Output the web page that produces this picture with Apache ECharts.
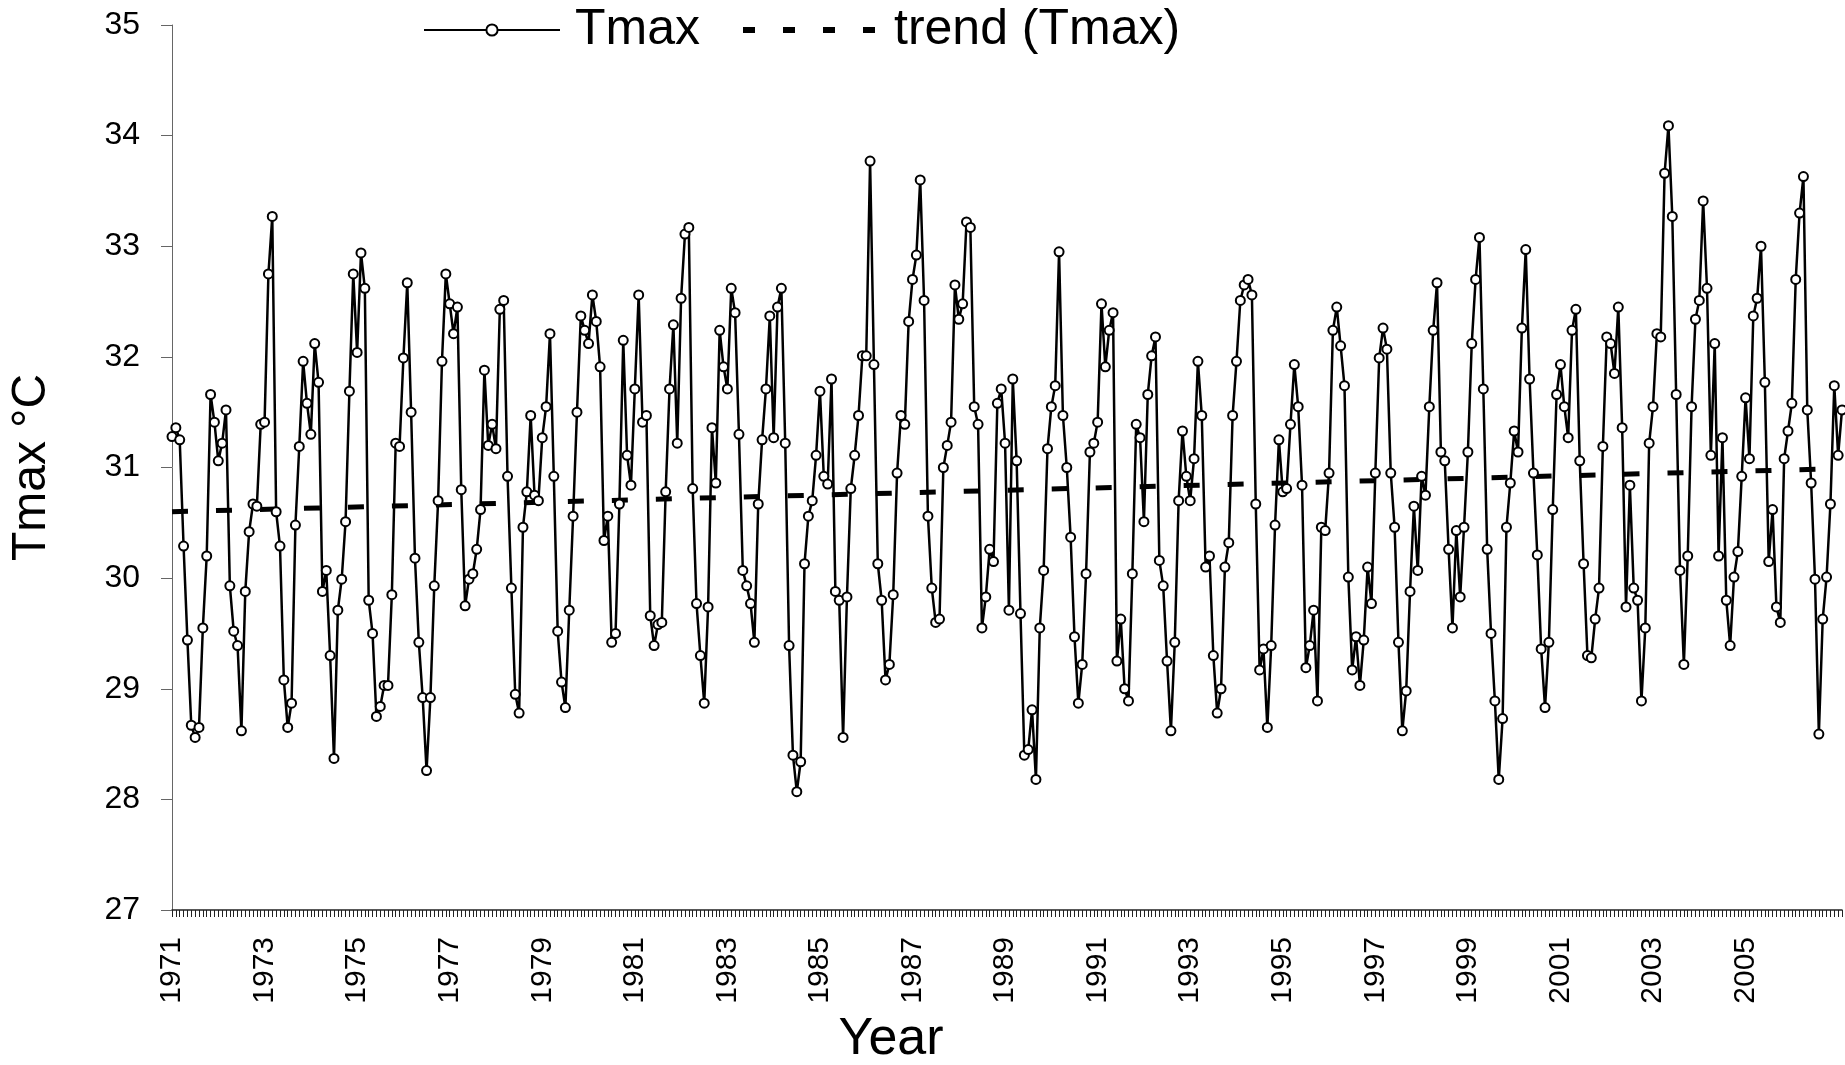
<!DOCTYPE html>
<html>
<head>
<meta charset="utf-8">
<title>Tmax</title>
<script src="https://cdn.jsdelivr.net/npm/echarts@6.0.0/dist/echarts.min.js"></script>
<style>
  html, body { margin: 0; padding: 0; background: #fff; }
  #main { width: 1845px; height: 1065px; }
</style>
</head>
<body>
<div id="main"></div>
<script>
// monthly Tmax (°C), Jan 1971 onward
const tmax = [
  31.28, 31.36, 31.25, 30.29, 29.44, 28.67, 28.56, 28.65, 29.55, 30.2,
  31.66, 31.41, 31.06, 31.22, 31.52, 29.93, 29.52, 29.39, 28.62, 29.88,
  30.42, 30.67, 30.65, 31.39, 31.41, 32.75, 33.27, 30.6, 30.29, 29.08,
  28.65, 28.87, 30.48, 31.19, 31.96, 31.58, 31.3, 32.12, 31.77, 29.88,
  30.07, 29.3, 28.37, 29.71, 29.99, 30.51, 31.69, 32.75, 32.04, 32.94,
  32.62, 29.8, 29.5, 28.75, 28.84, 29.03, 29.03, 29.85, 31.22, 31.19,
  31.99,
  32.67, 31.5, 30.18, 29.42, 28.92, 28.26, 28.92, 29.93, 30.7, 31.96,
  32.75, 32.48, 32.21, 32.45, 30.8, 29.75, 29.99, 30.04, 30.26, 30.62,
  31.88, 31.2, 31.39, 31.17, 32.43, 32.51, 30.92, 29.91, 28.95, 28.78,
  30.46, 30.78, 31.47, 30.75, 30.7, 31.27, 31.55, 32.21, 30.92, 29.52,
  29.06, 28.83, 29.71, 30.56, 31.5, 32.37, 32.24, 32.12, 32.56, 32.32,
  31.91, 30.34, 30.56, 29.42, 29.5, 30.67, 32.15, 31.11, 30.84, 31.71,
  32.56, 31.41, 31.47, 29.66, 29.39, 29.58, 29.6, 30.78, 31.71, 32.29,
  31.22, 32.53, 33.11, 33.17, 30.81, 29.77, 29.3, 28.87, 29.74, 31.36,
  30.86, 32.24, 31.91, 31.71, 32.62, 32.4, 31.3, 30.07, 29.93, 29.77,
  29.42, 30.67, 31.25, 31.71, 32.37, 31.27, 32.45, 32.62, 31.22, 29.39,
  28.4, 28.07, 28.34, 30.13, 30.56, 30.7, 31.11, 31.69, 30.92, 30.85,
  31.8, 29.88, 29.8, 28.56, 29.83, 30.81, 31.11, 31.47, 32.01,
  32.01, 33.77, 31.93, 30.13, 29.8, 29.08, 29.22, 29.85, 30.95, 31.47,
  31.39, 32.32, 32.7, 32.92, 33.6, 32.51, 30.56, 29.91, 29.6, 29.63,
  31.0, 31.2, 31.41, 32.65, 32.34, 32.48, 33.22, 33.17, 31.55, 31.39,
  29.55, 29.83, 30.26, 30.15, 31.58, 31.71, 31.22, 29.71, 31.8, 31.06,
  29.68, 28.4, 28.45, 28.81, 28.18, 29.55, 30.07, 31.17, 31.55, 31.74,
  32.95, 31.47, 31.0, 30.37, 29.47, 28.87, 29.22, 30.04, 31.14, 31.22,
  31.41, 32.48, 31.91, 32.24, 32.4, 29.25, 29.63, 29.0, 28.89, 30.04,
  31.39, 31.27, 30.51, 31.66, 32.01, 32.18, 30.16, 29.93, 29.25, 28.62,
  29.42, 30.7, 31.33, 30.92, 30.7, 31.08, 31.96, 31.47, 30.1, 30.2,
  29.3, 28.78, 29.0, 30.1, 30.32, 31.47, 31.96, 32.51, 32.65, 32.7,
  32.56, 30.67, 29.17, 29.36, 28.65, 29.39, 30.48, 31.25, 30.78, 30.81,
  31.39, 31.93, 31.55, 30.84, 29.19, 29.39, 29.71, 28.89, 30.46, 30.43,
  30.95, 32.24, 32.45, 32.1, 31.74, 30.01, 29.17, 29.47, 29.03, 29.44,
  30.1, 29.77, 30.95, 31.99, 32.26, 32.07, 30.95, 30.46, 29.42, 28.62,
  28.98, 29.88, 30.65, 30.07, 30.92, 30.75, 31.55, 32.24, 32.67, 31.14,
  31.06, 30.26, 29.55, 30.43, 29.83, 30.46, 31.14, 32.12, 32.7, 33.08,
  31.71, 30.26, 29.5, 28.89, 28.18, 28.73, 30.46, 30.86, 31.33, 31.14,
  32.26, 32.97, 31.8, 30.95, 30.21, 29.36, 28.83, 29.42, 30.62, 31.66,
  31.93, 31.55, 31.27, 32.24, 32.43, 31.06, 30.13, 29.3, 29.28, 29.63,
  29.91, 31.19, 32.18, 32.12, 31.85, 32.45, 31.36, 29.74, 30.84, 29.91,
  29.8, 28.89, 29.55, 31.22, 31.55, 32.21, 32.18, 33.66, 34.09, 33.27,
  31.66, 30.07, 29.22, 30.2, 31.55, 32.34, 32.51, 33.41, 32.62, 31.11,
  32.12, 30.2, 31.27, 29.8, 29.39, 30.01, 30.24, 30.92, 31.63, 31.08,
  32.37, 32.53, 33.0, 31.77, 30.15, 30.62, 29.74, 29.6, 31.08,
  31.33, 31.58, 32.7, 33.3, 33.63, 31.52, 30.86, 29.99, 28.59, 29.63,
  30.01, 30.67, 31.74, 31.11, 31.52
];

// year labels shown under every 24th month
const yearTicks = ['1971','1973','1975','1977','1979','1981','1983','1985','1987',
  '1989','1991','1993','1995','1997','1999','2001','2003','2005'];

// linear trend line, value at first and last month
const trendEnds = [30.60, 30.99];

const cats = tmax.map((v, i) => (i % 24 === 0 && yearTicks[i / 24]) ? yearTicks[i / 24] : '');
const trend = tmax.map((v, i) => i === 0 ? trendEnds[0] : (i === tmax.length - 1 ? trendEnds[1] : null));

const font = 'Liberation Sans, Arial, sans-serif';
const chart = echarts.init(document.getElementById('main'), null, { renderer: 'canvas' });

chart.setOption({
  animation: false,
  backgroundColor: '#fff',
  grid: { left: 171, right: 3, top: 25, bottom: 155, containLabel: false },
  legend: {
    left: 418,
    top: 0,
    itemWidth: 136,
    itemHeight: 14,
    itemGap: 40,
    textStyle: { fontFamily: font, fontSize: 50, color: '#000', padding: [0, 0, 0, 10] },
    data: [
      'Tmax',
      {
        name: 'trend (Tmax)',
        itemStyle: { opacity: 0 },
        lineStyle: { color: '#000', width: 6, type: [12, 28], cap: 'butt' }
      }
    ]
  },
  xAxis: {
    type: 'category',
    boundaryGap: false,
    data: cats,
    axisLine: { lineStyle: { color: '#222', width: 1.5 } },
    axisTick: { show: true, interval: 0, length: 7, lineStyle: { color: '#222', width: 1 } },
    axisLabel: {
      interval: 0,
      rotate: 90,
      margin: 27,
      fontFamily: font,
      fontSize: 30,
      color: '#000'
    },
    splitLine: { show: false }
  },
  yAxis: {
    type: 'value',
    min: 27,
    max: 35,
    interval: 1,
    name: 'Tmax °C',
    nameLocation: 'middle',
    nameRotate: 90,
    nameGap: 116,
    nameTextStyle: { fontFamily: font, fontSize: 48, color: '#000' },
    axisLine: { show: true, lineStyle: { color: '#666', width: 1 } },
    axisTick: { show: true, length: 11, lineStyle: { color: '#666' } },
    axisLabel: { margin: 32, fontFamily: font, fontSize: 32, color: '#000' },
    splitLine: { show: false }
  },
  graphic: [{
    type: 'text',
    x: 891,
    y: 1040,
    style: {
      text: 'Year',
      font: '52px ' + font,
      fill: '#000',
      textAlign: 'center',
      textVerticalAlign: 'middle'
    }
  }],
  series: [
    {
      name: 'trend (Tmax)',
      type: 'line',
      data: trend,
      connectNulls: true,
      symbol: 'none',
      z: 1,
      lineStyle: { color: '#000', width: 5, type: [16, 28], cap: 'butt' },
      itemStyle: { color: '#000' }
    },
    {
      name: 'Tmax',
      type: 'line',
      data: tmax,
      z: 2,
      symbol: 'circle',
      symbolSize: 9,
      showAllSymbol: true,
      lineStyle: { color: '#000', width: 2.5 },
      itemStyle: { color: '#fff', borderColor: '#000', borderWidth: 2 }
    }
  ]
});
</script>
</body>
</html>
